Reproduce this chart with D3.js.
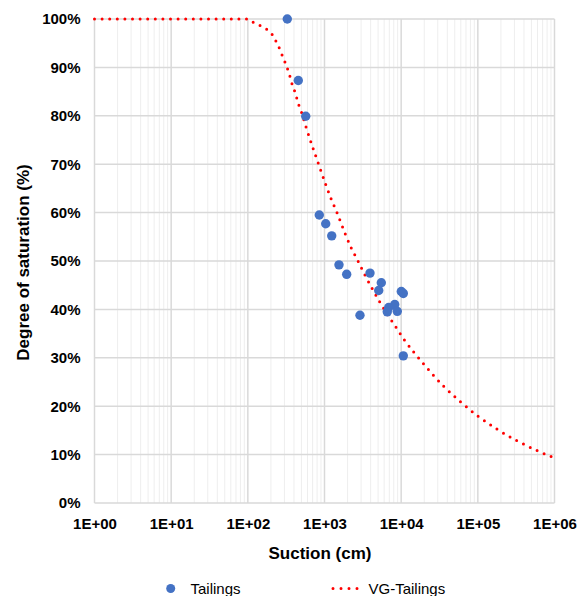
<!DOCTYPE html>
<html><head><meta charset="utf-8">
<script src="https://cdn.jsdelivr.net/npm/d3@7"></script>
<style>body{margin:0;background:#fff} svg text{font-family:"Liberation Sans",Arial,sans-serif}</style>
</head><body><svg id="c" width="585" height="596"></svg>
<script>
const seriesNames = ["Tailings", "VG-Tailings"];
const xTitle = "Suction (cm)";
const yTitle = "Degree of saturation (%)";
const xTickValues = [1, 10, 100, 1000, 10000, 100000, 1000000];
const xTickLabels = ["1E+00", "1E+01", "1E+02", "1E+03", "1E+04", "1E+05", "1E+06"];
const yTickValues = [0, 10, 20, 30, 40, 50, 60, 70, 80, 90, 100];
const yTickLabels = ["0%", "10%", "20%", "30%", "40%", "50%", "60%", "70%", "80%", "90%", "100%"];

// Tailings measured points
const tailingsSuction = [327, 455, 569, 855, 1037, 1242, 1545, 1947, 3920, 5506, 5094, 10040, 10660, 8240, 6875, 6590, 8895, 2903, 10660];
const tailingsSaturation = [100, 87.3, 79.9, 59.5, 57.7, 55.2, 49.2, 47.25, 47.5, 45.5, 43.9, 43.7, 43.3, 41.0, 40.4, 39.5, 39.6, 38.8, 30.4];

// VG-Tailings curve
const vgSuction = [1, 100, 118, 147, 176, 208, 233, 257, 279, 305, 331, 355, 377, 408, 434, 465, 505, 574, 891, 1038, 1216, 1455, 1866, 2234, 2735, 3342, 4159, 5188, 6592, 8492, 10890, 14390, 19280, 35400, 58480, 99540, 174200, 311900, 578100, 1000000];
const vgSaturation = [100, 100, 99.3, 98.6, 97.9, 96.8, 95.4, 94.0, 92.6, 91.1, 89.6, 88.1, 86.6, 85.1, 83.7, 82.1, 80.6, 77.7, 68.8, 65.8, 62.9, 60.0, 55.6, 52.7, 50.0, 47.2, 44.4, 41.7, 39.0, 36.4, 33.8, 31.3, 28.9, 24.2, 21.0, 18.0, 15.35, 13.0, 10.9, 9.3];

const svg = d3.select("#c");
const L = 94.5, R = 554.5, T = 19, B = 503;
const x = d3.scaleLog().domain([1, 1e6]).range([L, R]);
const y = d3.scaleLinear().domain([0, 100]).range([B, T]);

// minor vertical gridlines
const minor = [];
for (let k = 0; k < 6; k++) for (let m = 2; m <= 9; m++) minor.push(m * Math.pow(10, k));
svg.append("g").selectAll("line").data(minor).join("line")
  .attr("x1", d => x(d)).attr("x2", d => x(d)).attr("y1", T).attr("y2", B)
  .attr("stroke", "#eeeeee").attr("stroke-width", 1);

// major vertical gridlines
svg.append("g").selectAll("line").data(xTickValues).join("line")
  .attr("x1", d => x(d)).attr("x2", d => x(d)).attr("y1", T).attr("y2", B)
  .attr("stroke", "#d9d9d9").attr("stroke-width", 1.5);

// horizontal gridlines
svg.append("g").selectAll("line").data(yTickValues).join("line")
  .attr("x1", L).attr("x2", R).attr("y1", d => y(d)).attr("y2", d => y(d))
  .attr("stroke", "#d9d9d9").attr("stroke-width", 1.5);

// axes labels via d3 axes
const yAxis = svg.append("g").attr("transform", `translate(${L},0)`)
  .call(d3.axisLeft(y).tickValues(yTickValues).tickSize(0).tickPadding(14)
    .tickFormat((d, i) => yTickLabels[i]));
yAxis.select(".domain").remove();
yAxis.selectAll("text").attr("font-size", 15).attr("font-weight", "bold").attr("fill", "#000")
  .attr("font-family", "Liberation Sans, Arial, sans-serif");

const xAxis = svg.append("g").attr("transform", `translate(0,${B})`)
  .call(d3.axisBottom(x).tickValues(xTickValues).tickSize(0).tickPadding(15)
    .tickFormat((d, i) => xTickLabels[i]));
xAxis.select(".domain").remove();
xAxis.selectAll("text").attr("font-size", 15).attr("font-weight", "bold").attr("fill", "#000")
  .attr("font-family", "Liberation Sans, Arial, sans-serif");

// titles
svg.append("text").attr("x", 320).attr("y", 559).attr("text-anchor", "middle")
  .attr("font-size", 17).attr("font-weight", "bold").text(xTitle);
svg.append("text").attr("transform", "translate(29,262.5) rotate(-90)").attr("text-anchor", "middle")
  .attr("font-size", 17).attr("font-weight", "bold").text(yTitle);

// VG curve
const vgData = vgSuction.map((h, i) => [h, vgSaturation[i]]);
const line = d3.line().x(d => x(d[0])).y(d => y(d[1])).curve(d3.curveMonotoneX);
svg.append("path").datum(vgData).attr("d", line).attr("fill", "none")
  .attr("stroke", "#ff0000").attr("stroke-width", 3).attr("stroke-linecap", "round")
  .attr("stroke-dasharray", "0 7.6");

// points
const pts = tailingsSuction.map((h, i) => [h, tailingsSaturation[i]]);
svg.append("g").selectAll("circle").data(pts).join("circle")
  .attr("cx", d => x(d[0])).attr("cy", d => y(d[1])).attr("r", 4.7)
  .attr("fill", "#4472c4");

// legend
const lg = svg.append("g");
lg.append("circle").attr("cx", 170.7).attr("cy", 588.5).attr("r", 4.5).attr("fill", "#4472c4");
lg.append("text").attr("x", 190.5).attr("y", 594).attr("font-size", 15).text(seriesNames[0]);
lg.append("line").attr("x1", 333).attr("x2", 365).attr("y1", 588.5).attr("y2", 588.5)
  .attr("stroke", "#ff0000").attr("stroke-width", 3).attr("stroke-linecap", "round")
  .attr("stroke-dasharray", "0 8");
lg.append("text").attr("x", 368.5).attr("y", 594).attr("font-size", 15).text(seriesNames[1]);
</script></body></html>
